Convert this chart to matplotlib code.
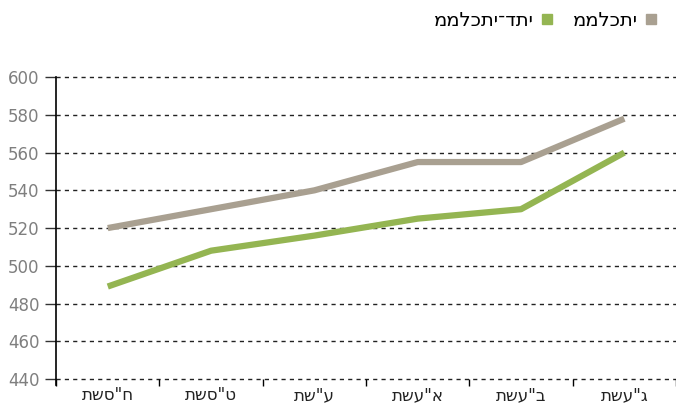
import matplotlib
matplotlib.use("Agg")
import matplotlib.pyplot as plt
from matplotlib.lines import Line2D

categories = ['תשס"ח', 'תשס"ט', 'תש"ע', 'תשע"א', 'תשע"ב', 'תשע"ג']
series_names = ['ממלכתי', 'ממלכתי־דתי']
mamlachti = [520, 530, 540, 555, 555, 578]
mamlachti_dati = [489, 508, 516, 525, 530, 560]
yticks = [440, 460, 480, 500, 520, 540, 560, 580, 600]

plt.rcParams['font.family'] = ['DejaVu Sans']

fig = plt.figure(figsize=(6.76, 4.04), dpi=100)
ax = fig.add_axes([0.083, 0.062, 0.917, 0.747])

gray = '#A9A091'
green = '#94B552'
x = list(range(len(categories)))
ax.plot(x, mamlachti, color=gray, lw=4.5, solid_capstyle='butt', zorder=3)
ax.plot(x, mamlachti_dati, color=green, lw=4.5, solid_capstyle='butt', zorder=3)

ax.set_ylim(440, 600)
ax.set_xlim(-0.5, len(categories) - 0.5)
ax.set_yticks(yticks)
ax.set_xticks(x)
ax.set_xticklabels(categories, fontsize=12, color='#222222')
ax.set_xticks([i - 0.5 for i in range(len(categories) + 1)], minor=True)
ax.tick_params(axis='x', which='major', length=0, pad=5)
ax.tick_params(axis='x', which='minor', length=5, width=1, color='black', direction='out')
ax.tick_params(axis='y', length=8, width=1, color='#333333', labelsize=12, labelcolor='#7f7f7f', pad=4)

for yv in yticks:
    ax.axhline(yv, linestyle=(0, (3, 3)), color='#222222', lw=1, clip_on=False, zorder=1)
for s in ['top', 'right', 'bottom']:
    ax.spines[s].set_visible(False)
ax.spines['left'].set_color('black')
ax.spines['left'].set_linewidth(1.2)
ax.spines['left'].set_bounds(437, 600)

handles = [Line2D([], [], marker='s', ls='none', color=green, markersize=6.5),
           Line2D([], [], marker='s', ls='none', color=gray, markersize=6.5)]
labels = [series_names[1], series_names[0]]
fig.legend(handles, labels, ncol=2, markerfirst=False, frameon=False,
           loc='upper right', bbox_to_anchor=(1.0, 1.017), fontsize=14,
           handletextpad=0.3, columnspacing=0.9, handlelength=0.8)

fig.savefig('out.png', dpi=100)
